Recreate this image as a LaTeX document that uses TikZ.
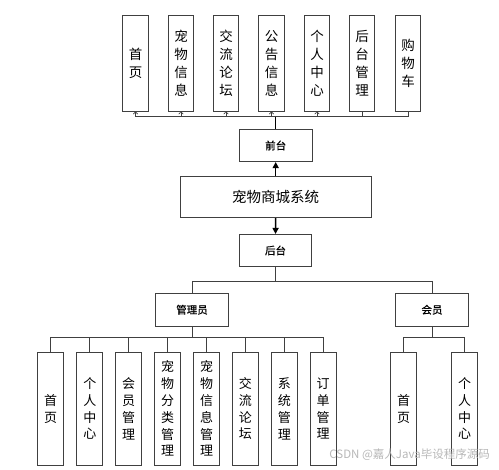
\documentclass[tikz,border=0pt]{standalone}
\usepackage{fontspec}
\newfontfamily\cjk{Noto Sans CJK SC}
\newfontfamily\cjkm[FakeBold=0.8]{Noto Sans CJK SC}
\usetikzlibrary{arrows.meta}
\tikzset{
  ln/.style={draw=black!75, line width=0.7pt},
  vbox/.style={ln, fill=white, minimum width=25.5pt, inner sep=0pt, align=center,
    font=\cjk\fontsize{13.5}{18}\selectfont},
  topbox/.style={vbox, minimum height=96pt},
  botbox/.style={vbox, minimum width=26pt, minimum height=112.7pt, font=\cjk\fontsize{13}{16.8}\selectfont},
  hbox/.style={ln, fill=white, minimum width=72.5pt, minimum height=32.4pt, inner sep=0pt,
    font=\cjkm\fontsize{10.5}{12}\selectfont},
  bigbox/.style={ln, fill=white, minimum width=191.3pt, minimum height=41pt, inner sep=0pt,
    font=\cjk\fontsize{14.5}{16}\selectfont},
  boldline/.style={draw=black, line width=1.4pt},
  smallarr/.style={ln, -{To[length=3pt,width=5pt]}},
  bigarr/.style={boldline, -{Triangle[length=6pt,width=6pt]}},
  wm/.style={text=black!28, font=\cjk\fontsize{11.5}{13}\selectfont, inner sep=0pt}
}
\begin{document}
\begin{tikzpicture}[x=1pt,y=-1pt]
\useasboundingbox[fill=white] (0,0) rectangle (499,470);
% top row
\node[topbox] (t1) at (135.5,63) {首\\页};
\node[topbox] (t2) at (181,63) {宠\\物\\信\\息};
\node[topbox] (t3) at (226,63) {交\\流\\论\\坛};
\node[topbox] (t4) at (271.5,63) {公\\告\\信\\息};
\node[topbox] (t5) at (317,63) {个\\人\\中\\心};
\node[topbox] (t6) at (362,63) {后\\台\\管\\理};
\node[topbox] (t7) at (408,63) {购\\物\\车};
\coordinate (bus1) at (275.7,116.7);
% center column
\node[hbox] (qt) at (275.7,145.5) {前台};
\node[bigbox] (sys) at (275.7,197.2) {宠物商城系统};
\node[hbox] (ht) at (275.5,250.5) {后台};
% front connectors
\draw[ln] (t1.south |- bus1) -- (t7.south |- bus1);
\foreach \i in {1,...,5}{\draw[smallarr] (t\i.south |- bus1) -- (t\i.south);}
\draw[ln] (t6.south |- bus1) -- (t6.south);
\draw[ln] (t7.south |- bus1) -- (t7.south);
\draw[boldline] (qt.north) -- (qt.north |- bus1);
\draw[bigarr] (sys.north) -- (qt.south);
\draw[bigarr] (sys.south) -- (ht.north);
% roles
\node[hbox] (gly) at (192,309.7) {管理员};
\node[hbox] (hy) at (432,309.7) {会员};
\coordinate (bus2) at (275.5,281);
\draw[ln] (ht.south) -- (ht.south |- bus2);
\draw[ln] (gly.north |- bus2) -- (hy.north |- bus2);
\draw[ln] (gly.north |- bus2) -- (gly.north);
\draw[ln] (hy.north |- bus2) -- (hy.north);
% admin children
\node[botbox] (a1) at (50.7,408.7) {首\\页};
\node[botbox] (a2) at (89.8,408.7) {个\\人\\中\\心};
\node[botbox] (a3) at (128.7,408.7) {会\\员\\管\\理};
\node[botbox] (a4) at (167.7,408.7) {宠\\物\\分\\类\\管\\理};
\node[botbox] (a5) at (206.5,408.7) {宠\\物\\信\\息\\管\\理};
\node[botbox] (a6) at (245.3,408.7) {交\\流\\论\\坛};
\node[botbox] (a7) at (284.3,408.7) {系\\统\\管\\理};
\node[botbox] (a8) at (323.2,408.7) {订\\单\\管\\理};
\coordinate (bus3) at (192,337.3);
\draw[ln] (gly.south) -- (gly.south |- bus3);
\draw[ln] (a1.north |- bus3) -- (a8.north |- bus3);
\foreach \i in {1,...,8}{\draw[ln] (a\i.north |- bus3) -- (a\i.north);}
% member children
\node[botbox] (m1) at (403.7,408.7) {首\\页};
\node[botbox] (m2) at (464.5,408.7) {个\\人\\中\\心};
\draw[ln] (hy.south) -- (hy.south |- bus3);
\draw[ln] (m1.north |- bus3) -- (m2.north |- bus3);
\draw[ln] (m1.north |- bus3) -- (m1.north);
\draw[ln] (m2.north |- bus3) -- (m2.north);
% watermark
\node[wm, anchor=east] (wmk) at (490,455) {CSDN @嘉人Java毕设程序源码};
\end{tikzpicture}
\end{document}
